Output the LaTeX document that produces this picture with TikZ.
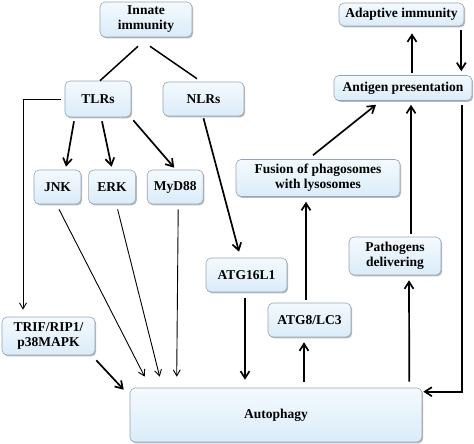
\documentclass[tikz,border=0pt]{standalone}
\usepackage{fontspec}
\setmainfont{Liberation Serif}
\usetikzlibrary{arrows.meta,positioning,shadows}
\definecolor{boxtop}{RGB}{244,250,254}
\definecolor{boxbot}{RGB}{218,236,249}
\definecolor{boxline}{RGB}{150,165,180}
\tikzset{
  box/.style={rectangle,rounded corners=5pt,top color=boxtop,bottom color=boxbot,
    draw=boxline,line width=0.6pt,align=center,inner sep=2pt,
    font=\fontsize{13.5}{15}\selectfont\bfseries,
    drop shadow={shadow xshift=1.2pt,shadow yshift=-1.4pt,fill=gray!55,opacity=1}},
  % connectors: plain links, thick arrows and thin arrows
  link/.style={line width=1.5pt},
  arr/.style={-{Straight Barb[length=7pt,width=9pt]},line width=1.7pt},
  thinarr/.style={-{Straight Barb[length=6pt,width=7pt]},line width=0.9pt}
}
\begin{document}
\begin{tikzpicture}[x=1pt,y=-1pt]
  \useasboundingbox (0,0) rectangle (474,444);
  \node[box,minimum width=92pt,minimum height=35pt] (innate) at (146,19.5) {Innate\\immunity};
  \node[box,minimum width=66pt,minimum height=36pt] (tlrs) at (98,99) {TLRs};
  \node[box,minimum width=81pt,minimum height=34pt] (nlrs) at (203.5,99) {NLRs};
  \node[box,minimum width=47pt,minimum height=34pt] (jnk) at (57.5,187) {JNK};
  \node[box,minimum width=47pt,minimum height=34pt,right=7pt of jnk] (erk) {ERK};
  \node[box,minimum width=56pt,minimum height=34pt,right=11pt of erk] (myd) {MyD88};
  \node[box,minimum width=93pt,minimum height=38pt] (trif) at (48.5,336) {TRIF/RIP1/\\p38MAPK};
  \node[box,minimum width=292pt,minimum height=54pt] (auto) at (276,415) {Autophagy};
  \node[box,minimum width=81pt,minimum height=34pt] (atg16) at (246.5,275) {ATG16L1};
  \node[box,minimum width=83pt,minimum height=34pt] (atg8) at (309.5,320) {ATG8/LC3};
  \node[box,minimum width=92pt,minimum height=38pt] (path) at (395,256) {Pathogens\\delivering};
  \node[box,minimum width=164pt,minimum height=37pt] (fusion) at (318,178) {Fusion of phagosomes\\with lysosomes};
  \node[box,minimum width=138pt,minimum height=25pt] (antigen) at (403,88) {Antigen presentation};
  \node[box,minimum width=125pt,minimum height=23pt] (adaptive) at (401.5,14.5) {Adaptive immunity};
  % innate branch
  \draw[link] ([xshift=-8pt,yshift=-9pt]innate.south) -- ([xshift=2pt]tlrs.north);
  \draw[link] ([xshift=4pt,yshift=-9pt]innate.south) -- ([xshift=-6.5pt,yshift=3pt]nlrs.north);
  \draw[arr] ([xshift=-24pt,yshift=-4pt]tlrs.south) -- ([xshift=8.5pt,yshift=3pt]jnk.north);
  \draw[arr] ([xshift=4pt,yshift=-4pt]tlrs.south) -- ([xshift=-0.5pt,yshift=3pt]erk.north);
  \draw[arr] ([xshift=2pt,yshift=-3pt]tlrs.south east) -- ([xshift=-1pt,yshift=2pt]myd.north);
  \draw[thinarr] ([xshift=-4pt]tlrs.west) -| ([xshift=-25.5pt,yshift=7pt]trif.north);
  \draw[arr] ([yshift=-2pt]nlrs.south) -- ([xshift=-7.5pt,yshift=6pt]atg16.north);
  % into autophagy
  \draw[thinarr] ([xshift=1.5pt,yshift=-5pt]jnk.south) -- ([xshift=15pt,yshift=11pt]auto.north west);
  \draw[thinarr] ([xshift=5.5pt,yshift=-5pt]erk.south) -- ([xshift=30pt,yshift=11pt]auto.north west);
  \draw[thinarr] ([xshift=3pt,yshift=-5pt]myd.south) -- ([xshift=47pt,yshift=11pt]auto.north west);
  \draw[arr] ([xshift=1pt,yshift=-5pt]trif.south east) -- ([xshift=-6pt,yshift=-2pt]auto.north west);
  \draw[arr] ([xshift=-1.5pt,yshift=-6pt]atg16.south) -- ([xshift=-31pt,yshift=8pt]auto.north);
  % out of autophagy
  \draw[arr] ([xshift=28pt,yshift=6pt]auto.north) -- ([xshift=-5.5pt,yshift=-5pt]atg8.south);
  \draw[arr] ([xshift=-3.5pt,yshift=3pt]atg8.north) -- ([xshift=-12pt,yshift=-5pt]fusion.south);
  \draw[arr] ([xshift=-5pt,yshift=4pt]fusion.north) -- ([xshift=-27pt,yshift=-4pt]antigen.south);
  \draw[arr] ([xshift=-13pt,yshift=6pt]auto.north east) -- ([xshift=14pt,yshift=-5pt]path.south);
  \draw[arr] ([xshift=16pt,yshift=3pt]path.north) -- ([xshift=8pt,yshift=-4pt]antigen.south);
  \draw[arr] ([xshift=9pt,yshift=2pt]antigen.north) -- ([xshift=10.5pt,yshift=-7pt]adaptive.south);
  \draw[arr] ([xshift=-3pt,yshift=-4pt]adaptive.south east) -- ([xshift=-11pt,yshift=4pt]antigen.north east);
  \draw[arr] ([xshift=-10pt,yshift=-4pt]antigen.south east) |- ([xshift=1pt,yshift=-4pt]auto.north east);
\end{tikzpicture}
\end{document}
